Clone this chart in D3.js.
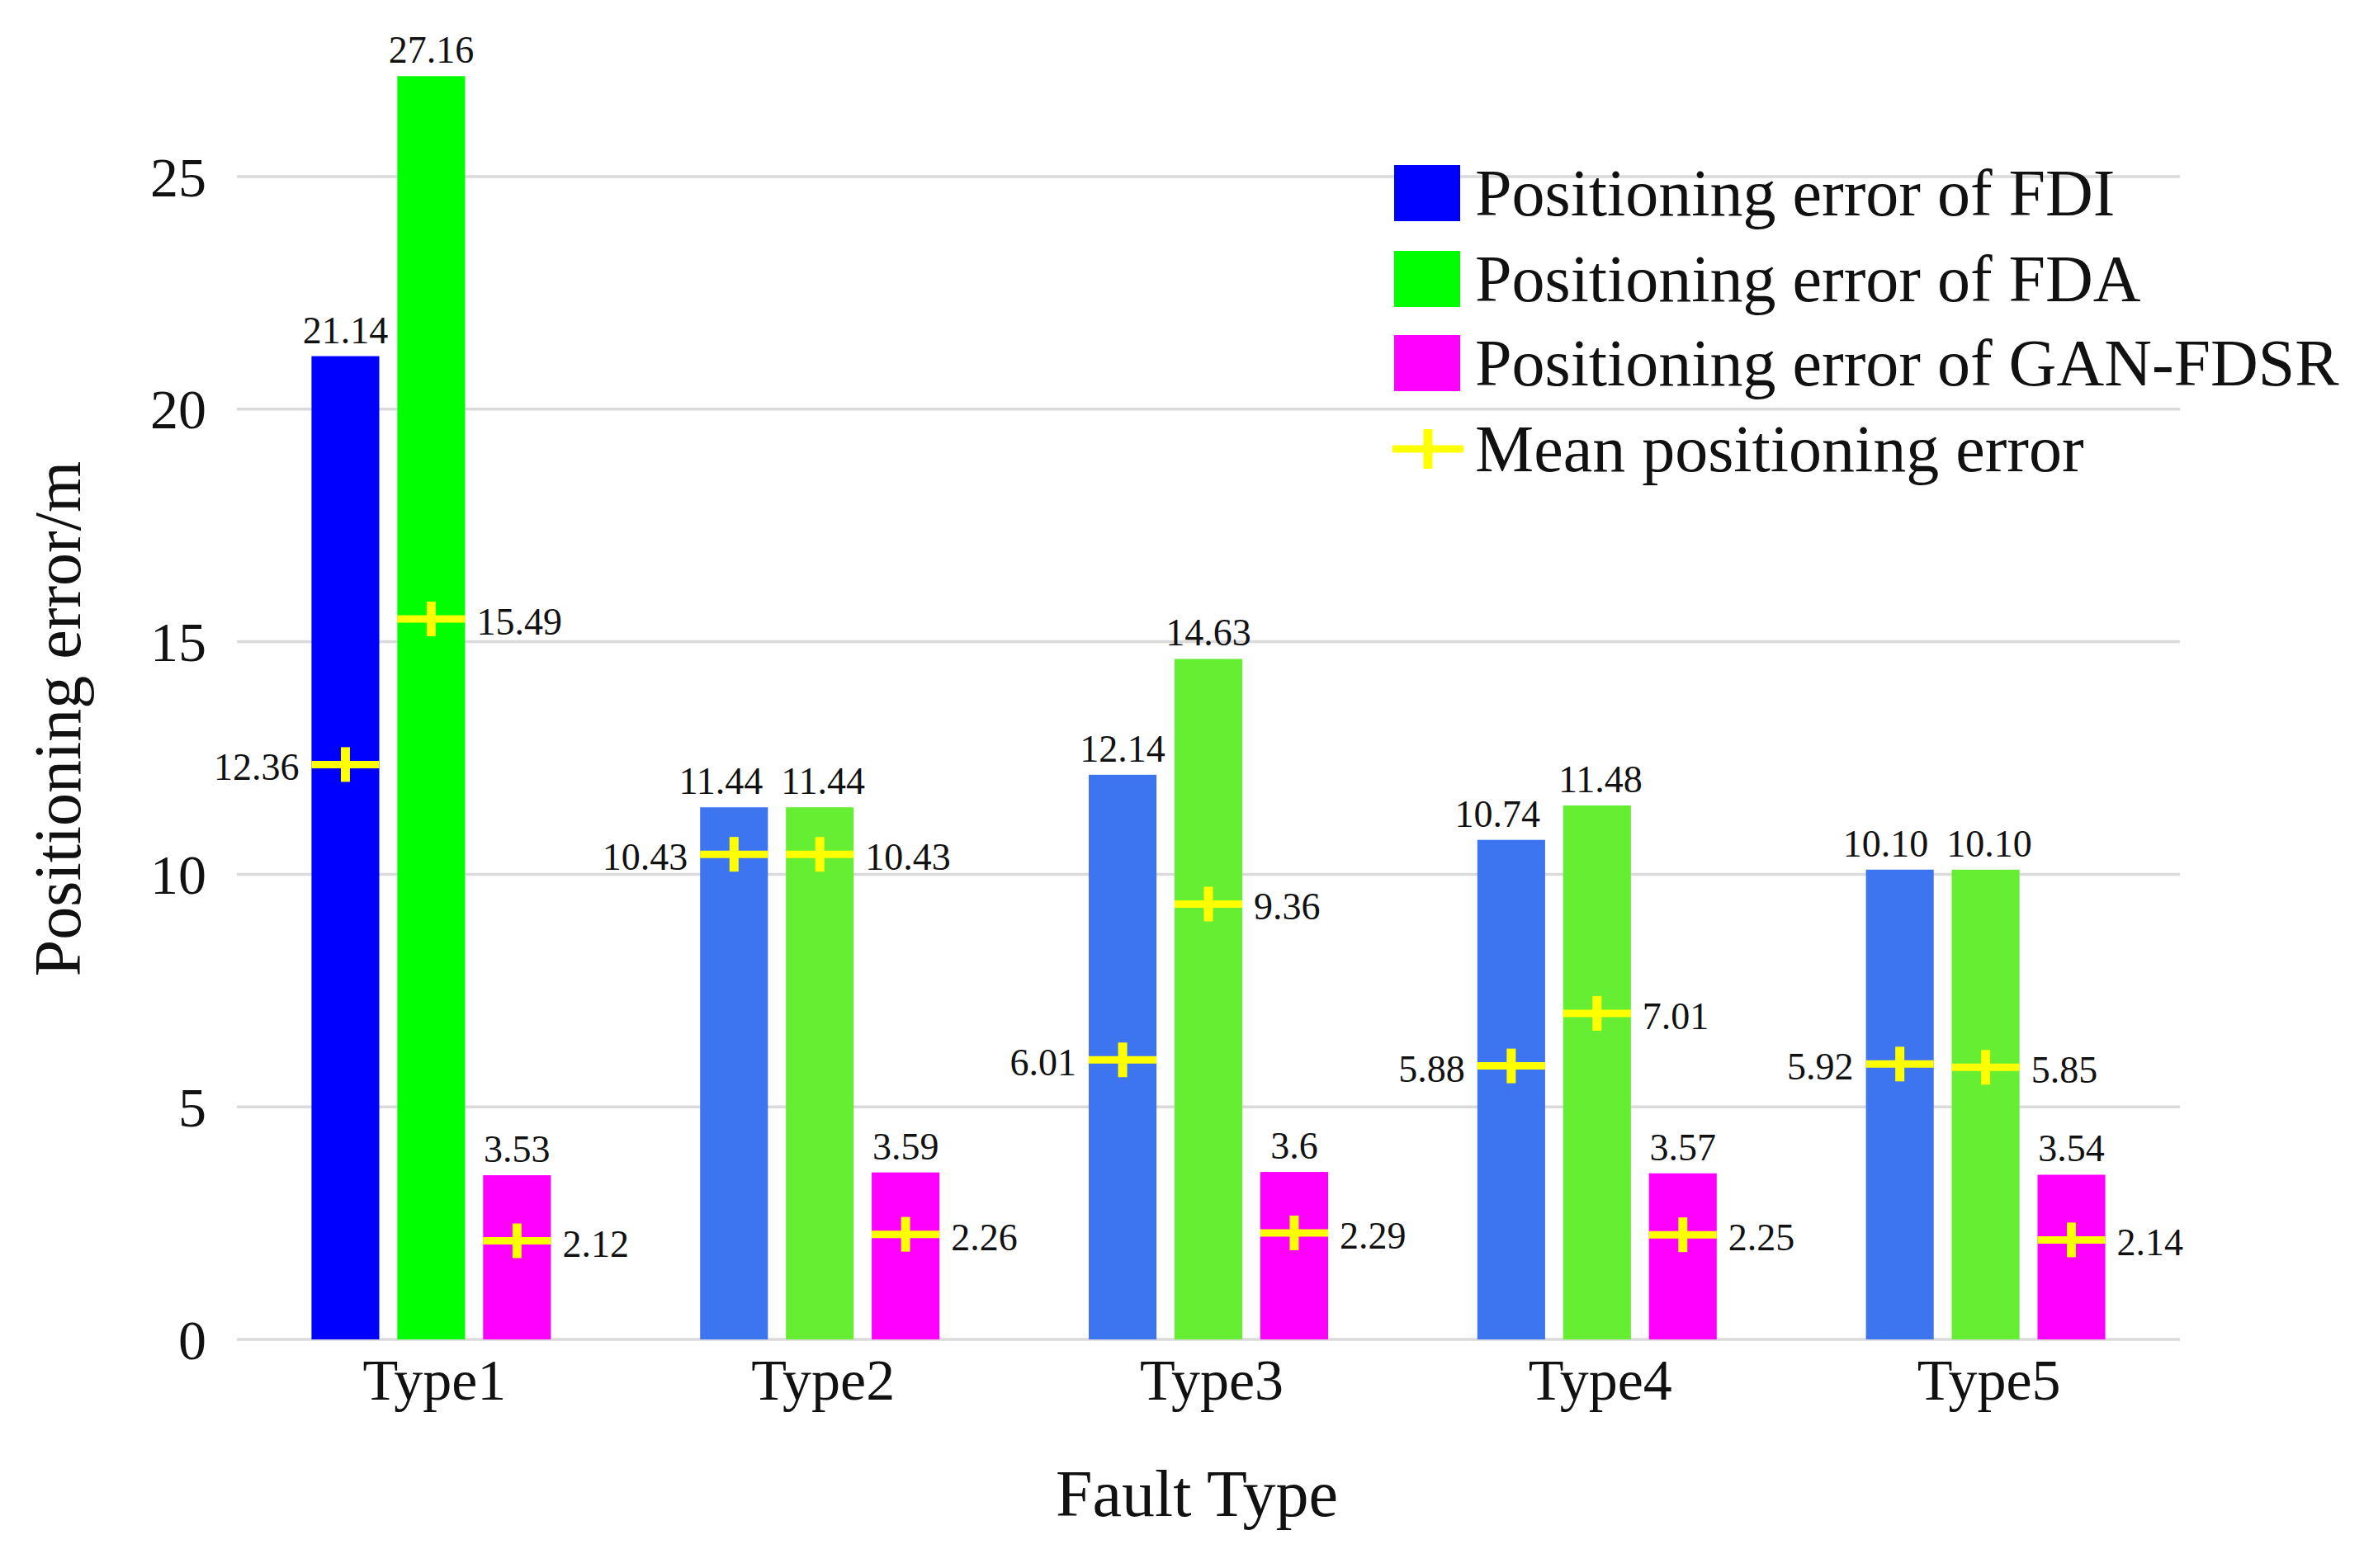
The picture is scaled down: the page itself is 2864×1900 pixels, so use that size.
<!DOCTYPE html>
<html>
<head>
<meta charset="utf-8">
<script src="https://cdn.jsdelivr.net/npm/d3@7"></script>
<style>
  html, body { margin: 0; padding: 0; background: #fff; }
  svg { display: block; }
  text { font-family: "Liberation Serif", "Times New Roman", serif; fill: #111; }
</style>
</head>
<body>
<div id="chart"></div>
<script>
// values
const categories = ["Type1", "Type2", "Type3", "Type4", "Type5"];
const seriesNames = [
  "Positioning error of FDI",
  "Positioning error of FDA",
  "Positioning error of GAN-FDSR"
];
const meanName = "Mean positioning error";

const fdiMax = ["21.14", "11.44", "12.14", "10.74", "10.10"];
const fdaMax = ["27.16", "11.44", "14.63", "11.48", "10.10"];
const ganMax = ["3.53", "3.59", "3.6", "3.57", "3.54"];

const fdiMean = ["12.36", "10.43", "6.01", "5.88", "5.92"];
const fdaMean = ["15.49", "10.43", "9.36", "7.01", "5.85"];
const ganMean = ["2.12", "2.26", "2.29", "2.25", "2.14"];

const yTicks = [0, 5, 10, 15, 20, 25];

const maxSeries = [fdiMax, fdaMax, ganMax];
const meanSeries = [fdiMean, fdaMean, ganMean];

// Type1 uses the saturated colours, the other groups are a bit softer
const brightColors = ["#0000ff", "#00ff00", "#ff00ff"];
const softColors = ["#3d75f0", "#66ee33", "#ff00ff"];

const width = 2864;
const height = 1900;
const plot = { left: 287, right: 2641, top: 214, bottom: 1623 };

const svg = d3.select("#chart")
  .append("svg")
  .attr("width", width)
  .attr("height", height);

const x0 = d3.scaleBand()
  .domain(categories)
  .range([plot.left, plot.right])
  .padding(0);

const half = 145;
const x1 = d3.scaleBand()
  .domain(d3.range(seriesNames.length))
  .range([x0.bandwidth() / 2 - half, x0.bandwidth() / 2 + half])
  .paddingInner(0.21);

const y = d3.scaleLinear()
  .domain([0, 25])
  .range([plot.bottom, plot.top]);

// grid
svg.append("g")
  .selectAll("line")
  .data(yTicks)
  .join("line")
  .attr("x1", plot.left)
  .attr("x2", plot.right)
  .attr("y1", (d) => y(d))
  .attr("y2", (d) => y(d))
  .attr("stroke", "#dadada")
  .attr("stroke-width", 3.5);

// y axis labels (no domain line)
const yAxis = d3.axisLeft(y).tickValues(yTicks).tickSize(0).tickPadding(0);
const yG = svg.append("g")
  .attr("transform", `translate(${250},0)`)
  .call(yAxis);
yG.select(".domain").remove();
yG.selectAll("text")
  .attr("font-size", 68)
  .attr("font-family", "Liberation Serif, serif")
  .attr("fill", "#111")
  .attr("dy", "0.34em");

// x axis labels
const xAxis = d3.axisBottom(x0).tickSize(0).tickPadding(0);
const xG = svg.append("g")
  .attr("transform", `translate(4,${1696})`)
  .call(xAxis);
xG.select(".domain").remove();
xG.selectAll("text")
  .attr("font-size", 70)
  .attr("font-family", "Liberation Serif, serif")
  .attr("fill", "#111")
  .attr("dy", 0);

// rows of bars
const rows = [];
categories.forEach((cat, ci) => {
  seriesNames.forEach((name, si) => {
    rows.push({
      cat, ci, si,
      max: maxSeries[si][ci],
      mean: meanSeries[si][ci]
    });
  });
});

const groups = svg.append("g")
  .selectAll("g")
  .data(rows)
  .join("g")
  .attr("transform", (d) => `translate(${x0(d.cat) + x1(d.si)},0)`);

const bw = x1.bandwidth();

groups.append("rect")
  .attr("x", 0)
  .attr("y", (d) => y(+d.max))
  .attr("width", bw)
  .attr("height", (d) => y(0) - y(+d.max))
  .attr("fill", (d) => (d.ci === 0 ? brightColors[d.si] : softColors[d.si]));

const topLabels = groups.append("text")
  .attr("class", "top-label")
  .attr("x", bw / 2)
  .attr("y", (d) => y(+d.max) - 16)
  .attr("text-anchor", "middle")
  .attr("font-size", 46)
  .text((d) => d.max);

// push apart FDI / FDA top labels when they sit at the same height
categories.forEach((cat, ci) => {
  const pair = topLabels.filter((d) => d.ci === ci && d.si < 2).nodes();
  const [a, b] = pair;
  const da = d3.select(a).datum();
  const db = d3.select(b).datum();
  if (Math.abs(y(+da.max) - y(+db.max)) > 50) return;
  const ca = x1(0) + bw / 2;
  const cb = x1(1) + bw / 2;
  const wa = a.getComputedTextLength();
  const wb = b.getComputedTextLength();
  const overlap = (ca + wa / 2 + 22) - (cb - wb / 2);
  if (overlap > 0) {
    d3.select(a).attr("x", bw / 2 - overlap * 0.8);
    d3.select(b).attr("x", bw / 2 + overlap * 0.2);
  }
});

// mean markers
groups.append("line")
  .attr("x1", 0)
  .attr("x2", bw)
  .attr("y1", (d) => y(+d.mean))
  .attr("y2", (d) => y(+d.mean))
  .attr("stroke", "#ffff00")
  .attr("stroke-width", 9);

groups.append("line")
  .attr("x1", bw / 2)
  .attr("x2", bw / 2)
  .attr("y1", (d) => y(+d.mean) - 21)
  .attr("y2", (d) => y(+d.mean) + 21)
  .attr("stroke", "#ffff00")
  .attr("stroke-width", 11);

groups.append("text")
  .attr("x", (d) => (d.si === 0 ? -15 : bw + 14))
  .attr("y", (d) => y(+d.mean) + 19)
  .attr("text-anchor", (d) => (d.si === 0 ? "end" : "start"))
  .attr("font-size", 46)
  .text((d) => d.mean);

// axis titles
svg.append("text")
  .attr("transform", `translate(97,${871}) rotate(-90)`)
  .attr("text-anchor", "middle")
  .attr("font-size", 80)
  .text("Positioning error/m");

svg.append("text")
  .attr("x", 1450)
  .attr("y", 1837)
  .attr("text-anchor", "middle")
  .attr("font-size", 80)
  .text("Fault Type");

// legend
const legend = svg.append("g").attr("transform", "translate(1689,0)");
const rowY = [234, 338, 440, 544];

legend.selectAll("rect")
  .data(seriesNames)
  .join("rect")
  .attr("x", 0)
  .attr("y", (d, i) => rowY[i] - 34)
  .attr("width", 80)
  .attr("height", 68)
  .attr("fill", (d, i) => brightColors[i]);

legend.append("line")
  .attr("x1", -2).attr("x2", 84)
  .attr("y1", rowY[3]).attr("y2", rowY[3])
  .attr("stroke", "#ffff00")
  .attr("stroke-width", 9);
legend.append("line")
  .attr("x1", 41).attr("x2", 41)
  .attr("y1", rowY[3] - 24).attr("y2", rowY[3] + 24)
  .attr("stroke", "#ffff00")
  .attr("stroke-width", 11);

legend.selectAll("text.legend-label")
  .data([...seriesNames, meanName])
  .join("text")
  .attr("class", "legend-label")
  .attr("x", 98)
  .attr("y", (d, i) => rowY[i] + 27)
  .attr("font-size", 80)
  .text((d) => d);
</script>
</body>
</html>
